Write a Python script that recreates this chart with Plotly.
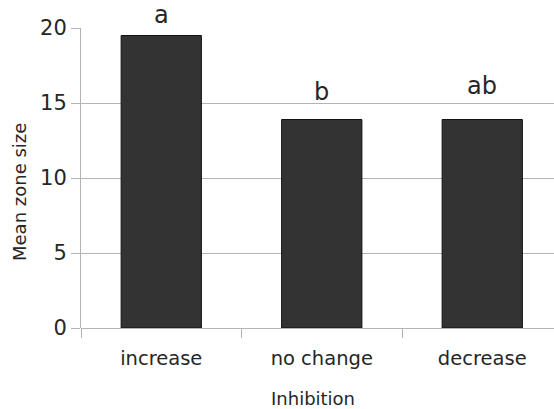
import plotly.graph_objects as go

# Mean zone size per inhibition group, with significance letters
categories = ["increase", "no change", "decrease"]
mean_zone = [19.5, 13.9, 13.9]
sig_letters = ["a", "b", "ab"]
letter_y = [19.8, 14.67, 15.05]

font_family = "DejaVu Sans"
text_color = "#262626"
grid_color = "#b3b3b3"

fig = go.Figure(
    go.Bar(
        x=categories,
        y=mean_zone,
        width=0.5,
        marker=dict(color="#333333", line=dict(color="#111111", width=1)),
        showlegend=False,
    )
)

for cat, yv, lab in zip(categories, letter_y, sig_letters):
    fig.add_annotation(
        x=cat, y=yv, text=lab, showarrow=False,
        xanchor="center", yanchor="bottom",
        font=dict(family=font_family, size=24, color=text_color),
    )

# axis titles
fig.add_annotation(
    text="Inhibition", xref="paper", yref="paper",
    x=(313 - 81) / 473, y=-(398 - 328) / 300,
    xanchor="center", yanchor="middle", showarrow=False,
    font=dict(family=font_family, size=18, color=text_color),
)
fig.add_annotation(
    text="Mean zone size", xref="paper", yref="paper",
    x=-(81 - 19) / 473, y=(328 - 192) / 300, textangle=-90,
    xanchor="center", yanchor="middle", showarrow=False,
    font=dict(family=font_family, size=18, color=text_color),
)

fig.update_layout(
    width=554,
    height=409,
    margin=dict(l=81, r=0, t=28, b=81),
    paper_bgcolor="white",
    plot_bgcolor="white",
    font=dict(family=font_family, color=text_color),
)

fig.update_xaxes(
    type="category",
    range=[-0.5, 2.447],
    tickson="boundaries",
    ticks="outside",
    ticklen=9,
    tickcolor=grid_color,
    tickwidth=1,
    showgrid=False,
    showline=False,
    ticklabelstandoff=16,
    tickfont=dict(size=19.5, color=text_color),
)

fig.update_yaxes(
    range=[0, 20],
    tickvals=[0, 5, 10, 15, 20],
    ticks="outside",
    ticklen=9,
    tickcolor=grid_color,
    tickwidth=1,
    showgrid=True,
    gridcolor=grid_color,
    gridwidth=1,
    zeroline=True,
    zerolinecolor=grid_color,
    zerolinewidth=1,
    showline=True,
    linecolor=grid_color,
    linewidth=1,
    tickfont=dict(size=21, color=text_color),
)

fig.write_html("out.html")
